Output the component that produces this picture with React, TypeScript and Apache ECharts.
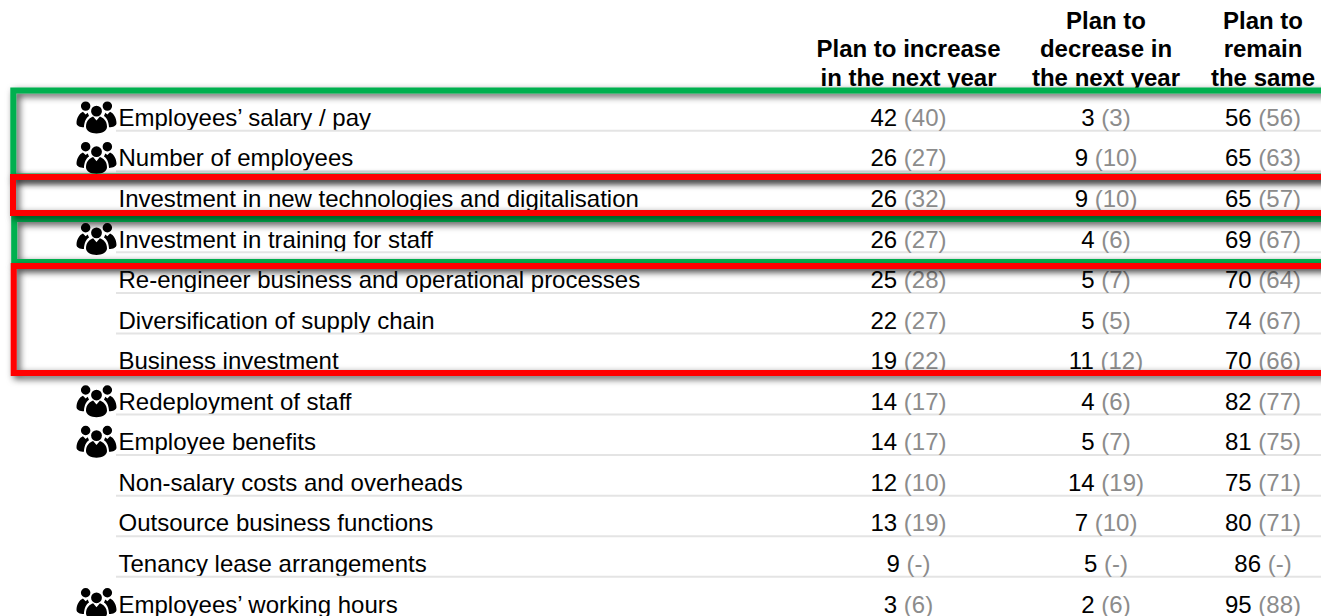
import React, { useEffect, useRef } from "react";
import * as echarts from "echarts";

const rowLabels = [
  "Employees’ salary / pay",
  "Number of employees",
  "Investment in new technologies and digitalisation",
  "Investment in training for staff",
  "Re-engineer business and operational processes",
  "Diversification of supply chain",
  "Business investment",
  "Redeployment of staff",
  "Employee benefits",
  "Non-salary costs and overheads",
  "Outsource business functions",
  "Tenancy lease arrangements",
  "Employees’ working hours",
];
const staffRows = [0, 1, 3, 7, 8, 12];

const increase = [42, 26, 26, 26, 25, 22, 19, 14, 14, 12, 13, 9, 3];
const increasePrev = [40, 27, 32, 27, 28, 27, 22, 17, 17, 10, 19, null, 6];
const decrease = [3, 9, 9, 4, 5, 5, 11, 4, 5, 14, 7, 5, 2];
const decreasePrev = [3, 10, 10, 6, 7, 5, 12, 6, 7, 19, 10, null, 6];
const remain = [56, 65, 65, 69, 70, 74, 70, 82, 81, 75, 80, 86, 95];
const remainPrev = [56, 63, 57, 67, 64, 67, 66, 77, 75, 71, 71, null, 88];

const headers = [
  "Plan to increase\nin the next year",
  "Plan to\ndecrease in\nthe next year",
  "Plan to\nremain\nthe same",
];

const FONT = '"Liberation Sans", Arial, sans-serif';
const TEXT_SIZE = 24;
const COLUMN_X = [908.5, 1106, 1263];
const HEADER_LAST_LINE = 77;
const HEADER_LINE = 28.5;

const PEOPLE_ICON =
  "path://M13 15a14 14 0 1 0 28 0a14 14 0 1 0 -28 0z" +
  "M77 15a14 14 0 1 0 28 0a14 14 0 1 0 -28 0z" +
  "M43 30a16 16 0 1 0 32 0a16 16 0 1 0 -32 0z" +
  "M28 76C28 58 40 49 49 46L59 58L69 46C78 49 90 58 90 76C90 88 75 96 59 96C43 96 28 88 28 76Z" +
  "M0 66C0 50 9 36 19 32L27 40L33 35L37 44C28 50 23 60 22 78C10 78 0 73 0 66Z" +
  "M118 66C118 50 109 36 99 32L91 40L85 35L81 44C90 50 95 60 96 78C108 78 118 73 118 66Z";

// Highlight frame: open on the right, it runs off the edge of the table.
const frame = (x: number, y: number, height: number, stroke: string) => ({
  type: "rect",
  z: 100,
  silent: true,
  shape: { x, y, width: 1340, height },
  style: {
    fill: "none",
    stroke,
    lineWidth: 6,
    shadowColor: "rgba(0,0,0,0.7)",
    shadowBlur: 7,
    shadowOffsetX: 3,
    shadowOffsetY: 3,
  },
});

const valueColumn = (
  x: number,
  now: number[],
  prev: (number | null)[]
) => ({
  type: "scatter",
  z: 5,
  symbolSize: 1,
  itemStyle: { color: "transparent", opacity: 1 },
  data: now.map((v, i) => ({
    value: [x, i],
    label: { formatter: `{a|${v}}{s| }{b|(${prev[i] ?? "-"})}` },
  })),
  label: {
    show: true,
    position: "inside",
    align: "center",
    verticalAlign: "middle",
    opacity: 1,
    rich: {
      a: { fontFamily: FONT, fontSize: TEXT_SIZE, color: "#000000" },
      s: { fontFamily: FONT, fontSize: TEXT_SIZE, width: 6.7, color: "#000000" },
      b: { fontFamily: FONT, fontSize: TEXT_SIZE, color: "#8c8c8c" },
    },
  },
});

export default function App() {
  const ref = useRef<HTMLDivElement>(null);

  useEffect(() => {
    const chart = echarts.init(ref.current!, null, { renderer: "svg" });
    chart.setOption({
      animation: false,
      backgroundColor: "#ffffff",
      grid: { left: 0, top: 117.4, width: 1321, height: 488.4 },
      xAxis: { type: "value", min: 0, max: 1321, show: false },
      yAxis: {
        type: "category",
        inverse: true,
        boundaryGap: false,
        data: rowLabels,
        axisLine: { show: false },
        axisTick: { show: false },
        splitLine: { show: false },
        axisLabel: {
          inside: true,
          interval: 0,
          margin: 118.5,
          align: "left",
          fontFamily: FONT,
          fontSize: TEXT_SIZE,
          color: "#000000",
        },
      },
      series: [
        {
          type: "custom",
          z: 1,
          silent: true,
          clip: false,
          data: rowLabels.map((_, i) => [i]),
          encode: { y: 0 },
          renderItem: (_: unknown, api: any) => {
            const [, y] = api.coord([0, api.value(0)]);
            return {
              type: "line",
              shape: { x1: 116, y1: y + 13.3, x2: 1321, y2: y + 13.3 },
              style: { stroke: "#e4e4e4", lineWidth: 2 },
            };
          },
        },
        {
          type: "scatter",
          z: 6,
          symbol: PEOPLE_ICON,
          symbolSize: [40, 32],
          itemStyle: { color: "#000000", opacity: 1 },
          data: staffRows.map((i) => [96.5, i]),
        },
        valueColumn(COLUMN_X[0], increase, increasePrev),
        valueColumn(COLUMN_X[1], decrease, decreasePrev),
        valueColumn(COLUMN_X[2], remain, remainPrev),
      ],
      graphic: [
        ...headers.flatMap((h, c) => {
          const lines = h.split("\n");
          return lines.map((t, l) => ({
            type: "text",
            z: 50,
            silent: true,
            x: COLUMN_X[c],
            y: HEADER_LAST_LINE - (lines.length - 1 - l) * HEADER_LINE,
            style: {
              text: t,
              fontFamily: FONT,
              fontSize: TEXT_SIZE,
              fontWeight: "bold",
              fill: "#000000",
              align: "center",
              verticalAlign: "middle",
            },
          }));
        }),
        frame(13.3, 90.5, 86, "#00b050"),
        frame(14.2, 219, 43, "#00b050"),
        frame(13, 177, 36, "#ff0000"),
        frame(13.7, 266, 107, "#ff0000"),
      ],
    });
    return () => chart.dispose();
  }, []);

  return (
    <div
      ref={ref}
      style={{ position: "absolute", left: 0, top: 0, width: 1321, height: 616 }}
    />
  );
}
